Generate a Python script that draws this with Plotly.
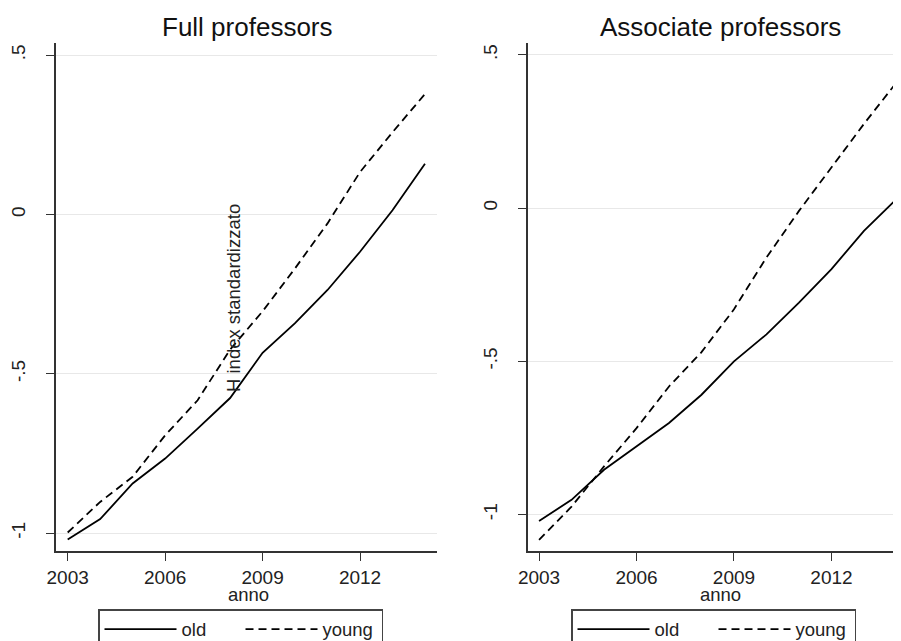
import plotly.graph_objects as go

years = list(range(2003, 2015))

full_old = [-1.02, -0.956, -0.844, -0.766, -0.672, -0.576, -0.434, -0.341, -0.237, -0.117, 0.013, 0.159]
full_young = [-0.998, -0.902, -0.823, -0.693, -0.583, -0.424, -0.304, -0.169, -0.028, 0.133, 0.258, 0.378]

assoc_old = [-1.021, -0.952, -0.854, -0.778, -0.701, -0.609, -0.500, -0.412, -0.308, -0.199, -0.074, 0.029]
assoc_young = [-1.083, -0.974, -0.843, -0.718, -0.582, -0.47, -0.33, -0.161, -0.009, 0.133, 0.275, 0.41]

ytick_vals = [-1, -0.5, 0, 0.5]
ytick_text = ["-1", "-.5", "0", ".5"]
xtick_vals = [2003, 2006, 2009, 2012]
xtick_text = ["2003", "2006", "2009", "2012"]

titles = ["Full professors", "Associate professors"]
series_names = ["old", "young"]
xlabel = "anno"
ylabel = "H index standardizzato"

# The page has an 8px body margin; the figure is sized so it fills the window exactly.
OFF = 8
W, H = 901 - OFF, 641 - OFF
PLOT_TOP, PLOT_BOTTOM = 43 - OFF, 551 - OFF
MT, MB = PLOT_TOP, H - PLOT_BOTTOM
PH = PLOT_BOTTOM - PLOT_TOP

FONT = "Liberation Sans, Arial, sans-serif"
AX = "#333333"

def px_x(p):
    # p in window pixels
    return (p - OFF) / W

def px_y(p):
    return (PLOT_BOTTOM - (p - OFF)) / PH

fig = go.Figure()

line_w = 1.8
dash = "8px,5px"

fig.add_trace(go.Scatter(x=years, y=full_old, mode="lines", name=series_names[0],
                         line=dict(color="black", width=line_w), xaxis="x", yaxis="y", legend="legend"))
fig.add_trace(go.Scatter(x=years, y=full_young, mode="lines", name=series_names[1],
                         line=dict(color="black", width=line_w, dash=dash), xaxis="x", yaxis="y", legend="legend"))
fig.add_trace(go.Scatter(x=years, y=assoc_old, mode="lines", name=series_names[0],
                         line=dict(color="black", width=line_w), xaxis="x2", yaxis="y2", legend="legend2"))
fig.add_trace(go.Scatter(x=years, y=assoc_young, mode="lines", name=series_names[1],
                         line=dict(color="black", width=line_w, dash=dash), xaxis="x2", yaxis="y2", legend="legend2"))

TICKSIZE = 19

def xaxis(domain, rng, anchor):
    return dict(domain=domain, range=rng, anchor=anchor, tickvals=xtick_vals, ticktext=xtick_text,
                showgrid=False, zeroline=False, showline=True, linecolor=AX, linewidth=1.5,
                ticks="outside", ticklen=8, tickcolor=AX, tickwidth=1.2,
                tickfont=dict(family=FONT, size=TICKSIZE, color="#222"), fixedrange=True)

def yaxis(rng, anchor):
    return dict(domain=[0, 1], range=rng, anchor=anchor, tickvals=ytick_vals, ticktext=ytick_text,
                showgrid=True, gridcolor="#e8e8e8", gridwidth=1, zeroline=False,
                showline=True, linecolor=AX, linewidth=1.5,
                ticks="outside", ticklen=8, tickcolor=AX, tickwidth=1.2, tickangle=-90,
                ticklabelstandoff=14,
                tickfont=dict(family=FONT, size=TICKSIZE, color="#222"), fixedrange=True)

leg_common = dict(yanchor="top", xanchor="left", orientation="h",
                  bordercolor="#444", borderwidth=1.5, itemwidth=72, entrywidth=54,
                  font=dict(family=FONT, size=18.5, color="#222"), bgcolor="white")

fig.update_layout(
    width=W, height=H,
    margin=dict(l=0, r=0, t=MT, b=MB, autoexpand=False),
    paper_bgcolor="white", plot_bgcolor="white",
    font=dict(family=FONT, color="#222"),
    xaxis=xaxis([px_x(56), px_x(437)], [2002.64, 2014.37], "y"),
    yaxis=yaxis([-1.056, 0.538], "x"),
    xaxis2=xaxis([px_x(528), 1.0], [2002.66, 2014.14], "y2"),
    yaxis2=yaxis([-1.119, 0.539], "x2"),
    legend=dict(x=px_x(98), y=px_y(609), **leg_common),
    legend2=dict(x=px_x(571), y=px_y(609), **leg_common),
)

annotations = [
    dict(text=titles[0], x=px_x(247), y=px_y(27), xref="paper", yref="paper", showarrow=False,
         xanchor="center", yanchor="middle", font=dict(family=FONT, size=26, color="#111")),
    dict(text=titles[1], x=px_x(720), y=px_y(27), xref="paper", yref="paper", showarrow=False,
         xanchor="center", yanchor="middle", font=dict(family=FONT, size=26, color="#111")),
    dict(text=xlabel, x=px_x(248), y=px_y(594), xref="paper", yref="paper", showarrow=False,
         xanchor="center", yanchor="middle", font=dict(family=FONT, size=18.5, color="#222")),
    dict(text=xlabel, x=px_x(720), y=px_y(594), xref="paper", yref="paper", showarrow=False,
         xanchor="center", yanchor="middle", font=dict(family=FONT, size=18.5, color="#222")),
    dict(text=ylabel, x=px_x(233), y=px_y(298), xref="paper", yref="paper", showarrow=False,
         textangle=-90, xanchor="center", yanchor="middle", font=dict(family=FONT, size=18.5, color="#222")),
]
fig.update_layout(annotations=annotations)

fig.write_html("out.html")
